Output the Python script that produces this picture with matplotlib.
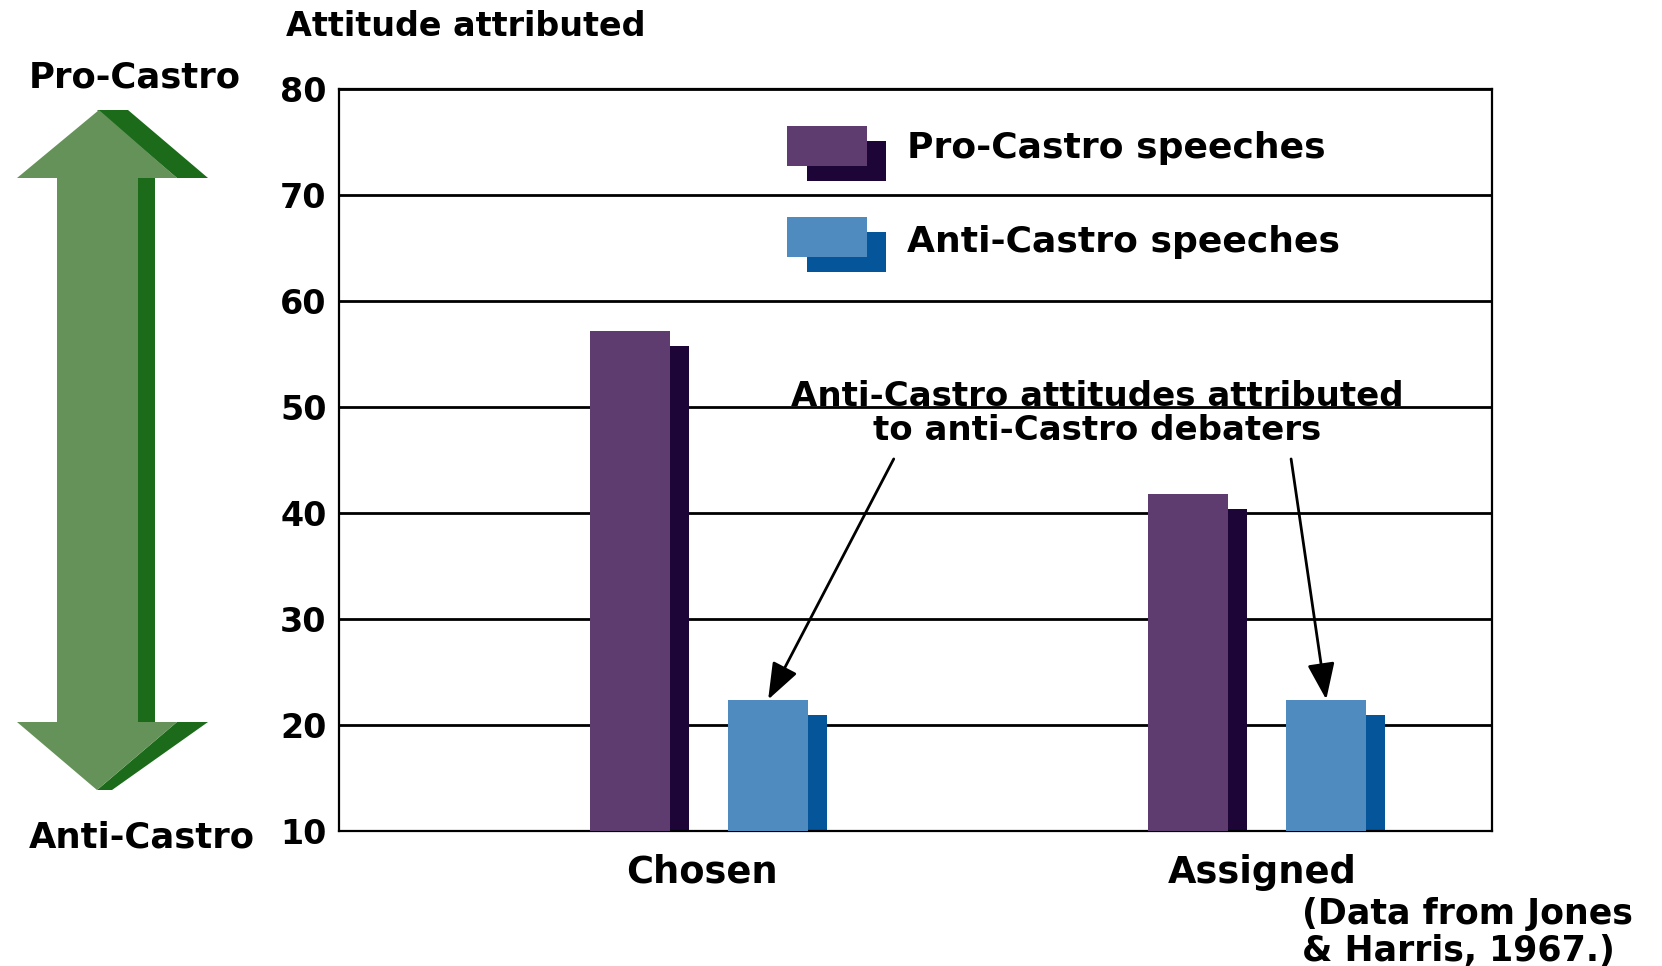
"""
Attitude attributed to debaters, by speech direction and choice condition.
"""

import matplotlib.pyplot as plt
from matplotlib.patches import Rectangle, Polygon

# --- data -------------------------------------------------------------
categories = ['Chosen', 'Assigned']
pro_castro = [57.2, 41.8]
anti_castro = [22.4, 22.4]
series_labels = ['Pro-Castro speeches', 'Anti-Castro speeches']
y_ticks = [10, 20, 30, 40, 50, 60, 70, 80]
note_lines = ['(Data from Jones', '& Harris, 1967.)']
callout_lines = ['Anti-Castro attitudes attributed', 'to anti-Castro debaters']

# --- styling ----------------------------------------------------------
W, H = 1662, 966
PRO_FACE, PRO_SIDE = '#5e3c70', '#1e0537'
ANTI_FACE, ANTI_SIDE = '#508bc0', '#05559b'
GREEN_FACE, GREEN_SIDE = '#659258', '#1b6b1a'
BAR_W = 0.143      # front face of a bar
SIDE_W = 0.034     # shaded side strip
DEPTH = 1.45       # side strip sits this far below the bar top
OFFSETS = [-0.124, 0.124]
BASE = 10
BOLD = dict(family='DejaVu Sans', fontweight='bold')


def fx(x):
    return x / W


def fy(y):
    return 1 - y / H


def px_rect(x0, y0, x1, y1, color, **kw):
    return Rectangle((fx(x0), fy(y1)), fx(x1) - fx(x0), fy(y0) - fy(y1),
                     transform=fig.transFigure, color=color, lw=0, **kw)


def px_poly(points, color):
    return Polygon([(fx(x), fy(y)) for x, y in points], closed=True,
                   transform=fig.transFigure, color=color, lw=0)


def draw_bar(ax, x, value, face, side):
    left = x - BAR_W / 2
    ax.bar(left, value - BASE, width=BAR_W, bottom=BASE, align='edge',
           color=face, lw=0, zorder=3)
    ax.bar(left + BAR_W, value - DEPTH - BASE, width=SIDE_W, bottom=BASE,
           align='edge', color=side, lw=0, zorder=2)


fig = plt.figure(figsize=(W / 100, H / 100), dpi=100)
fig.patch.set_facecolor('white')
ax = fig.add_axes([339 / W, 1 - 831 / H, (1492 - 339) / W, (831 - 89) / H])

for i in range(len(categories)):
    draw_bar(ax, i + OFFSETS[0], pro_castro[i], PRO_FACE, PRO_SIDE)
    draw_bar(ax, i + OFFSETS[1], anti_castro[i], ANTI_FACE, ANTI_SIDE)

ax.set_xlim(-0.645, 1.421)
ax.set_ylim(BASE, 80)
ax.set_yticks(y_ticks)
ax.set_yticklabels([str(t) for t in y_ticks], fontsize=24, **BOLD)
# category labels sit a touch right of the group centres
ax.set_xticks([i + 0.005 * (1 + i) for i in range(len(categories))])
ax.set_xticklabels(categories, fontsize=26.5, **BOLD)
ax.tick_params(axis='y', length=0, pad=9)
ax.tick_params(axis='x', length=0, pad=16.5)
ax.yaxis.grid(True, color='black', lw=2)
ax.set_axisbelow(True)
for sp in ax.spines.values():
    sp.set_color('black')
    sp.set_linewidth(1.6)

# call-out arrows pointing at the anti-Castro bars
starts = [(0.349, 45.1), (1.061, 45.1)]
for i, start in enumerate(starts):
    ax.annotate('', xy=(i + OFFSETS[1], anti_castro[i]), xytext=start,
                arrowprops=dict(arrowstyle='-|>,head_length=0.8,head_width=0.3',
                                color='black', lw=2, mutation_scale=28,
                                shrinkA=0, shrinkB=0), zorder=5)
for line, y in zip(callout_lines, [51.0, 47.8]):
    ax.text(0.713, y, line, ha='center', va='center', fontsize=24.5,
            zorder=5, **BOLD)

# legend swatches with the same shaded side as the bars
legend_rows = [(126, PRO_FACE, PRO_SIDE, 148), (217, ANTI_FACE, ANTI_SIDE, 242)]
for (top, face, side, ty), label in zip(legend_rows, series_labels):
    fig.add_artist(px_rect(807, top + 15, 886, top + 55, side))
    fig.add_artist(px_rect(787, top, 867, top + 40, face))
    fig.text(fx(907), fy(ty), label, ha='left', va='center', fontsize=26, **BOLD)

# double-headed scale arrow on the left
fig.add_artist(px_rect(138, 176, 155, 722, GREEN_SIDE))
fig.add_artist(px_rect(57, 176, 138, 723, GREEN_FACE))
fig.add_artist(px_poly([(97, 110), (128, 110), (208, 178), (177, 178)], GREEN_SIDE))
fig.add_artist(px_poly([(17, 178), (99, 110), (177, 178)], GREEN_FACE))
fig.add_artist(px_poly([(177, 722), (208, 722), (112, 790), (97, 790)], GREEN_SIDE))
fig.add_artist(px_poly([(17, 722), (177, 722), (97, 790)], GREEN_FACE))

fig.text(fx(135), fy(87), 'Pro-Castro', ha='center', va='baseline',
         fontsize=25.5, **BOLD)
fig.text(fx(142), fy(847), 'Anti-Castro', ha='center', va='baseline',
         fontsize=25.5, **BOLD)
fig.text(fx(286), fy(36), 'Attitude attributed', ha='left', va='baseline',
         fontsize=24, **BOLD)
for line, y in zip(note_lines, [924, 961]):
    fig.text(fx(1302), fy(y), line, ha='left', va='baseline',
             fontsize=25, **BOLD)

fig.savefig('out.png', dpi=100, facecolor='white')
plt.close(fig)
